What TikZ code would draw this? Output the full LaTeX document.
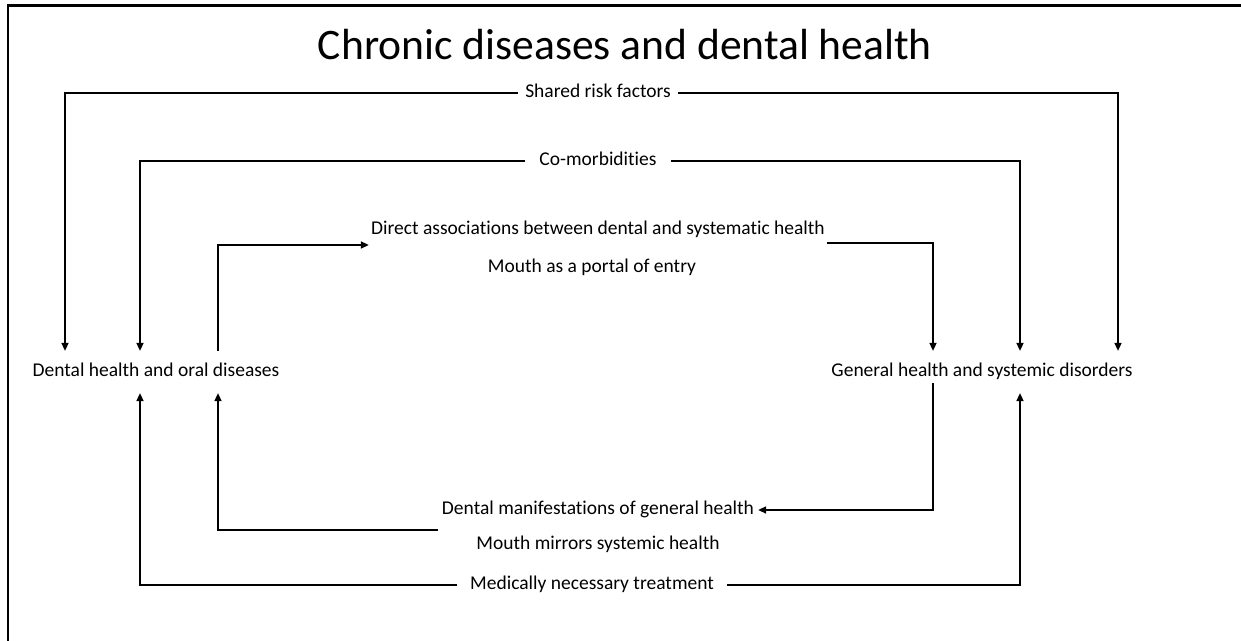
\documentclass[tikz,border=0pt]{standalone}
\usepackage{fontspec}
\setmainfont{Carlito}[Ligatures=NoCommon]
\usetikzlibrary{arrows.meta}
\newcommand{\bodysize}{\fontsize{11.1}{13}\selectfont}
\newcommand{\titlesize}{\fontsize{24.8}{30}\selectfont}
\tikzset{
    lbl/.style={inner sep=0pt, text height=7.6pt, text depth=2.2pt, font=\bodysize},
    gap/.style={lbl, inner xsep=#1},
    side/.style={lbl, minimum height=0.82cm},
    arr/.style={-{Triangle[length=4.5pt,width=4pt]}},
}

\begin{document}
\begin{tikzpicture}[x=0.02cm, y=-0.02cm, line width=0.75pt]

        \useasboundingbox (0,0) rectangle (1241,641);
        \clip (0,0) rectangle (1241,641);

        % Page frame (cut off at the right and bottom)
        \draw[line width=1.7pt] (8,660) -- (8,6) -- (1260,6);

        % Column positions of the vertical connectors
        \coordinate (colA) at (65,0);
        \coordinate (colB) at (140,0);
        \coordinate (colC) at (218,0);
        \coordinate (colD) at (933,0);
        \coordinate (colE) at (1020,0);
        \coordinate (colF) at (1118,0);

        % Title
        \node (title) at (625,45) {\titlesize Chronic diseases and dental health};

        % --- The two sides ---
        \node[side] (dental) at (156,372) {Dental health and oral diseases};
        \node[side] (general) at (982,372) {General health and systemic disorders};

        % --- Shared risk factors ---
        \node[gap=4pt] (shared) at (598,93) {Shared risk factors};
        \draw[arr] (shared.west) -| (colA |- dental.north);
        \draw[arr] (shared.east) -| (colF |- general.north);

        % --- Co-morbidities ---
        \node[gap=8pt] (comorb) at (598,161) {Co-morbidities};
        \draw[arr] (comorb.west) -| (colB |- dental.north);
        \draw[arr] (comorb.east) -| (colE |- general.north);

        % --- Mouth as a portal of entry ---
        \node[gap=1pt] (direct) at (598,230) {Direct associations between dental and systematic health};
        \node[lbl] (portal) at (592,268) {Mouth as a portal of entry};
        \draw[arr] (colC |- dental.north) |- ([yshift=-0.3cm]direct.west);
        \draw[arr] ([yshift=-0.26cm]direct.east) -| (colD |- general.north);

        % --- Mouth mirrors systemic health ---
        \node[gap=2pt] (manif) at (598,510) {Dental manifestations of general health};
        \node[lbl] (mirrors) at (598,545) {Mouth mirrors systemic health};
        \draw[arr] ([yshift=0.2cm]colD |- general.south) |- (manif.east);
        \draw[arr] ([yshift=-0.4cm]manif.west) -| (colC |- dental.south);

        % --- Medically necessary treatment ---
        \node[gap=7pt] (treat) at (592,585) {Medically necessary treatment};
        \draw[arr] (treat.west) -| (colB |- dental.south);
        \draw[arr] (treat.east) -| (colE |- general.south);

\end{tikzpicture}
\end{document}
